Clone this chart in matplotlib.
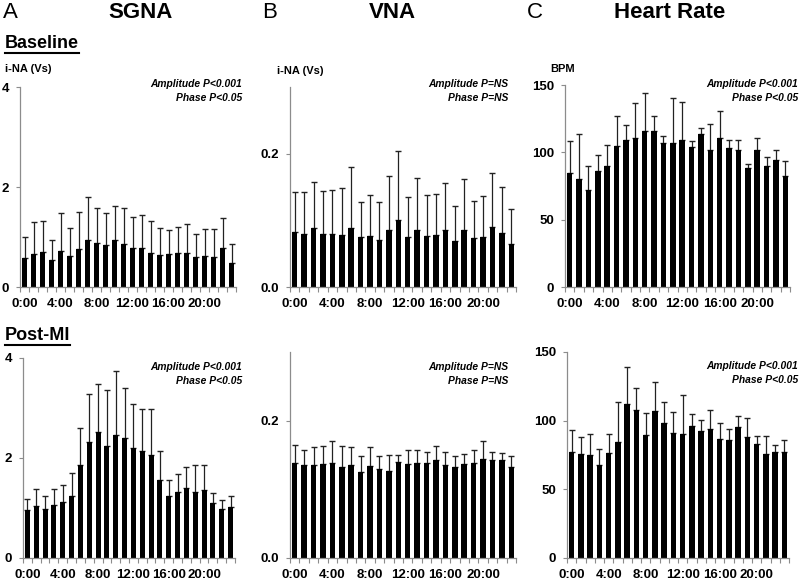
import numpy as np
import matplotlib
matplotlib.use("Agg")
import matplotlib.pyplot as plt

plt.rcParams['font.family'] = ['Liberation Sans', 'DejaVu Sans']

hours = list(range(24))
tick_labels = ["0:00", "4:00", "8:00", "12:00", "16:00", "20:00"]

# SGNA (i-NA, Vs)
sgna_base = [0.59, 0.66, 0.71, 0.54, 0.72, 0.62, 0.77, 0.95, 0.89, 0.84, 0.94, 0.87,
             0.79, 0.79, 0.68, 0.65, 0.66, 0.69, 0.69, 0.61, 0.62, 0.61, 0.79, 0.48]
sgna_base_top = [1.00, 1.30, 1.33, 0.95, 1.48, 1.19, 1.50, 1.80, 1.59, 1.48, 1.62, 1.59,
                 1.41, 1.45, 1.33, 1.19, 1.14, 1.21, 1.26, 1.06, 1.17, 1.17, 1.38, 0.87]
sgna_mi = [0.96, 1.05, 0.99, 1.06, 1.13, 1.25, 1.86, 2.32, 2.52, 2.25, 2.46, 2.41,
           2.21, 2.15, 2.07, 1.57, 1.25, 1.33, 1.40, 1.33, 1.36, 1.10, 0.98, 1.03]
sgna_mi_top = [1.18, 1.375, 1.24, 1.39, 1.46, 1.71, 2.60, 3.28, 3.49, 3.36, 3.74, 3.40,
               3.08, 2.99, 2.99, 2.15, 1.56, 1.68, 1.83, 1.86, 1.86, 1.31, 1.16, 1.24]

# VNA (i-NA, Vs)
vna_base = [0.082, 0.079, 0.088, 0.080, 0.080, 0.078, 0.089, 0.075, 0.076, 0.070, 0.086, 0.101,
            0.075, 0.086, 0.076, 0.078, 0.086, 0.069, 0.085, 0.074, 0.075, 0.090, 0.081, 0.064]
vna_base_top = [0.142, 0.143, 0.158, 0.144, 0.146, 0.149, 0.180, 0.128, 0.138, 0.127, 0.166, 0.204,
                0.135, 0.164, 0.138, 0.139, 0.156, 0.122, 0.162, 0.129, 0.136, 0.171, 0.150, 0.117]
vna_mi = [0.138, 0.136, 0.136, 0.137, 0.138, 0.132, 0.135, 0.125, 0.134, 0.130, 0.126, 0.140,
          0.137, 0.139, 0.138, 0.142, 0.136, 0.132, 0.137, 0.139, 0.144, 0.143, 0.143, 0.133]
vna_mi_top = [0.165, 0.158, 0.161, 0.163, 0.170, 0.163, 0.161, 0.149, 0.162, 0.149, 0.150, 0.150,
              0.157, 0.158, 0.154, 0.163, 0.154, 0.148, 0.151, 0.158, 0.170, 0.154, 0.153, 0.149]

# Heart rate (BPM)
hr_base = [84.6, 80.2, 71.8, 86.4, 90.0, 104.9, 109.3, 110.5, 116.2, 116.0, 106.8, 106.8,
           109.3, 103.9, 113.7, 101.9, 110.5, 103.1, 101.4, 88.3, 101.9, 89.6, 94.5, 82.7]
hr_base_top = [108.6, 113.5, 90.0, 98.2, 105.4, 127.0, 120.4, 137.0, 143.8, 127.0, 111.8, 140.0,
               137.7, 108.6, 118.4, 120.9, 131.0, 109.3, 109.3, 91.5, 110.5, 96.5, 101.9, 93.3]
hr_mi = [77.2, 76.0, 75.3, 67.7, 76.7, 84.4, 112.0, 108.0, 89.4, 107.3, 98.4, 91.0,
         90.6, 95.8, 92.2, 93.9, 86.8, 85.8, 95.3, 88.2, 82.7, 76.0, 77.2, 77.2]
hr_mi_top = [93.0, 88.4, 90.3, 79.6, 90.3, 113.5, 138.8, 124.0, 105.4, 128.0, 113.7, 106.3,
             119.0, 104.9, 100.6, 107.8, 98.2, 93.9, 103.5, 101.6, 89.1, 89.1, 82.5, 85.8]

W, H = 800, 582
fig = plt.figure(figsize=(W / 100, H / 100), dpi=100)

def px_axes(x0, y0, x1, y1):
    return fig.add_axes([x0 / W, 1 - y1 / H, (x1 - x0) / W, (y1 - y0) / H])

AXC = '#8c8c8c'
TICKFS = 9.5

def panel(rect, vals, tops, ylim, yticks, yticklabels, ann, ann_xy):
    ax = px_axes(*rect)
    x = np.arange(len(hours))
    v = np.array(vals)
    t = np.array(tops)
    ax.errorbar(x, v, yerr=[np.zeros_like(v), t - v], fmt='none', ecolor='#222222',
                elinewidth=0.9, capsize=2.0, capthick=1.0, zorder=1)
    ax.bar(x, v, width=0.58, color='black', zorder=2)
    ax.set_xlim(-0.5, len(hours) - 0.5)
    ax.set_ylim(*ylim)
    ax.set_yticks(yticks)
    ax.set_yticklabels(yticklabels, fontsize=TICKFS, fontweight='bold')
    ax.set_xticks(np.arange(0, 24, 4))
    ax.set_xticklabels(tick_labels, fontsize=TICKFS, fontweight='bold')
    ax.set_xticks(np.arange(-0.5, 24, 1), minor=True)
    ax.tick_params(axis='x', which='major', length=0, pad=8)
    ax.tick_params(axis='x', which='minor', length=3.5, width=0.8, color=AXC, direction='out')
    ax.tick_params(axis='y', length=3, width=0.8, color=AXC, pad=5)
    for s in ['top', 'right']:
        ax.spines[s].set_visible(False)
    for s in ['left', 'bottom']:
        ax.spines[s].set_color(AXC)
        ax.spines[s].set_linewidth(0.9)
    ax.patch.set_alpha(0)
    fig.text(ann_xy[0] / W, 1 - ann_xy[1] / H, ann[0], ha='right', va='center',
             fontsize=7.4, fontweight='bold', style='italic')
    fig.text(ann_xy[0] / W, 1 - (ann_xy[1] + 14) / H, ann[1], ha='right', va='center',
             fontsize=7.4, fontweight='bold', style='italic')
    return ax

ampP = ("Amplitude P<0.001", "Phase P<0.05")
nsP = ("Amplitude P=NS", "Phase P=NS")

# top row
panel((20, 87, 236, 287), sgna_base, sgna_base_top, (0, 4), [0, 2, 4], ["0", "2", "4"], ampP, (242, 84))
panel((290, 87, 516, 287), vna_base, vna_base_top, (0, 0.3), [0, 0.2], ["0.0", "0.2"], nsP, (508, 84))
panel((565, 85, 790, 287), hr_base, hr_base_top, (0, 150), [0, 50, 100, 150], ["0", "50", "100", "150"], ampP, (798, 84))

# bottom row
panel((23, 358, 235, 558), sgna_mi, sgna_mi_top, (0, 4), [0, 2, 4], ["0", "2", "4"], ampP, (242, 367))
panel((290, 352, 516, 558), vna_mi, vna_mi_top, (0, 0.3), [0, 0.2], ["0.0", "0.2"], nsP, (508, 367))
panel((567, 352, 789, 558), hr_mi, hr_mi_top, (0, 150), [0, 50, 100, 150], ["0", "50", "100", "150"], ampP, (798, 366))

def ftext(x, y, s, **kw):
    return fig.text(x / W, 1 - y / H, s, **kw)

# column headers
ftext(3, 13, "A", fontsize=16, va='center', ha='left')
ftext(141, 13, "SGNA", fontsize=16, fontweight='bold', va='center', ha='center')
ftext(262, 13, "B", fontsize=16, va='center', ha='left')
ftext(392, 13, "VNA", fontsize=16, fontweight='bold', va='center', ha='center')
ftext(527, 13, "C", fontsize=16, va='center', ha='left')
ftext(670, 13, "Heart Rate", fontsize=16, fontweight='bold', va='center', ha='center')

# row labels (underlined)
for (yy, s) in [(43, "Baseline"), (335, "Post-MI")]:
    ftext(5, yy, s, fontsize=13, fontweight='bold', va='center', ha='left')

fig.canvas.draw()
renderer = fig.canvas.get_renderer()
for t in list(fig.texts):
    if t.get_text() in ("Baseline", "Post-MI"):
        bb = t.get_window_extent(renderer)
        yline = bb.y0 - 1.5
        fig.add_artist(plt.Line2D([bb.x0 / W, bb.x1 / W], [yline / H, yline / H],
                                  transform=fig.transFigure, color='black', linewidth=1.5))

# unit labels
ftext(5, 69, "i-NA (Vs)", fontsize=8, fontweight='bold', va='center', ha='left')
ftext(277, 71, "i-NA (Vs)", fontsize=8, fontweight='bold', va='center', ha='left')
ftext(550, 69, "BPM", fontsize=8, fontweight='bold', va='center', ha='left')

fig.savefig("out.png", dpi=100)
